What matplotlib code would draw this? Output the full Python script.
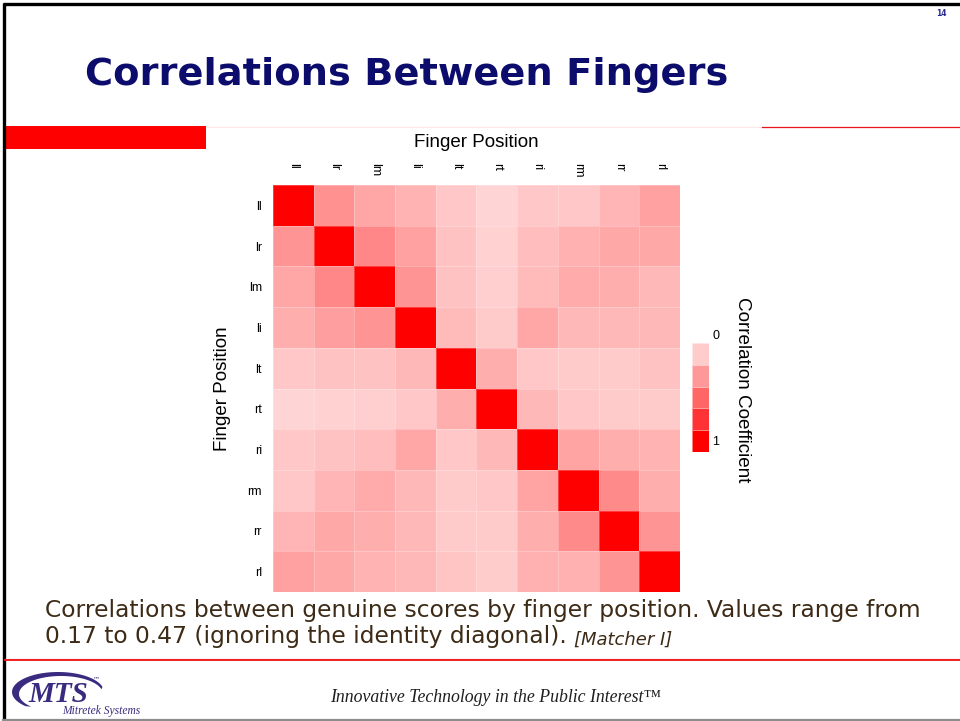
import numpy as np
import matplotlib
matplotlib.use("Agg")
import matplotlib.pyplot as plt
from matplotlib.colors import LinearSegmentedColormap
from matplotlib.patches import Rectangle, Polygon

# ---------------- data ----------------
fingers = ["ll", "lr", "lm", "li", "lt", "rt", "ri", "rm", "rr", "rl"]
corr = np.array([
    [1.00, 0.43, 0.35, 0.30, 0.22, 0.17, 0.22, 0.22, 0.29, 0.37],
    [0.42, 1.00, 0.47, 0.37, 0.24, 0.18, 0.26, 0.31, 0.34, 0.34],
    [0.35, 0.47, 1.00, 0.42, 0.24, 0.19, 0.27, 0.33, 0.32, 0.28],
    [0.32, 0.38, 0.42, 1.00, 0.27, 0.21, 0.35, 0.28, 0.28, 0.28],
    [0.22, 0.24, 0.24, 0.28, 1.00, 0.32, 0.22, 0.21, 0.21, 0.24],
    [0.17, 0.18, 0.19, 0.22, 0.32, 1.00, 0.28, 0.22, 0.21, 0.21],
    [0.22, 0.24, 0.26, 0.35, 0.22, 0.28, 1.00, 0.36, 0.32, 0.30],
    [0.22, 0.29, 0.33, 0.28, 0.21, 0.22, 0.36, 1.00, 0.46, 0.32],
    [0.29, 0.34, 0.32, 0.28, 0.21, 0.21, 0.32, 0.46, 1.00, 0.42],
    [0.37, 0.34, 0.30, 0.28, 0.23, 0.20, 0.31, 0.31, 0.42, 1.00],
])
cbar_levels = [0.2, 0.4, 0.6, 0.8, 1.0]
cbar_labels = ["0", "1"]

title = "Correlations Between Fingers"
caption1 = "Correlations between genuine scores by finger position. Values range from"
caption2 = "0.17 to 0.47 (ignoring the identity diagonal). "
caption_ref = "[Matcher I]"
footer = "Innovative Technology in the Public Interest\u2122"

# ---------------- figure ----------------
W, H = 960, 721
fig = plt.figure(figsize=(W / 100, H / 100), dpi=100)
fig.patch.set_facecolor("white")

def rect(x0, y0, x1, y1):
    return [x0 / W, 1 - y1 / H, (x1 - x0) / W, (y1 - y0) / H]

# overlay in pixel coordinates
bg = fig.add_axes([0, 0, 1, 1])
bg.set_xlim(0, W)
bg.set_ylim(H, 0)
bg.axis("off")

# slide borders
bg.plot([3, W], [4, 4], color="black", lw=2.4, solid_capstyle="butt")
bg.plot([4, 4], [3, H], color="black", lw=2.4, solid_capstyle="butt")
bg.plot([3, W], [719.5, 719.5], color="#8c8c8c", lw=1.6)

# red decorations
bg.add_patch(Rectangle((5, 126), 201, 23, color="#ff0000", lw=0))
bg.plot([206, 762], [126.5, 126.5], color="#ffe6e6", lw=0.8)
bg.plot([762, W], [127, 127], color="#e8141e", lw=0.9)
bg.plot([5, W], [658.5, 658.5], color="#ffc0c0", lw=1.0)
bg.plot([5, W], [660, 660], color="#ee1010", lw=1.3)

# title and page number
bg.text(85, 75, title, fontsize=27.6, fontweight="bold", family="DejaVu Sans",
        color="#0c0c6c", ha="left", va="center")
bg.text(941, 14, "14", fontsize=5.5, fontweight="bold", family="DejaVu Sans",
        color="#2c2c8c", ha="center", va="center")

# caption
cap_font = dict(fontsize=16.8, family="DejaVu Sans", color="#3d2b17")
t1 = bg.text(45, 610, caption1, ha="left", va="center", **cap_font)
t2 = bg.text(45, 637, caption2, ha="left", va="center", **cap_font)
bg.annotate(caption_ref, xy=(1, 0), xycoords=t2, xytext=(0, 0),
            textcoords="offset points", fontsize=13, style="italic",
            family="DejaVu Sans", color="#3d2b17", ha="left", va="bottom")

# footer
bg.text(495, 697, footer, fontsize=12.8, style="italic", family="Liberation Serif",
        color="#1e1e1e", ha="center", va="center")

# logo
t = np.radians(np.linspace(15, 225, 80))
outer = np.column_stack([58 + 46 * np.cos(t), 692 - 20 * np.sin(t)])
inner = np.column_stack([61 + 42 * np.cos(t[::-1]), 694 - 18 * np.sin(t[::-1])])
bg.add_patch(Polygon(np.vstack([outer, inner]), closed=True,
                     facecolor="#3a2b80", edgecolor="none"))
bg.text(58, 695, "MTS", fontsize=21, fontweight="bold", style="italic",
        family="Liberation Serif", color="#3a2b80", ha="center", va="center")
bg.text(96, 679, "\u2122", fontsize=5, family="DejaVu Sans", color="#3a2b80",
        ha="center", va="center")
bg.text(101, 711, "Mitretek Systems", fontsize=8.3, style="italic",
        family="Liberation Serif", color="#3a2b80", ha="center", va="center")

# ---------------- heatmap ----------------
cmap = LinearSegmentedColormap.from_list("wr", ["#ffffff", "#ff0000"])
ax = fig.add_axes(rect(273, 185, 680, 592))
n = len(fingers)
ax.pcolormesh(np.arange(n + 1), np.arange(n + 1), corr, cmap=cmap, vmin=0, vmax=1,
              edgecolors=(1, 1, 1, 0.25), linewidth=0.6)
ax.set_xlim(0, n)
ax.set_ylim(n, 0)
for s in ax.spines.values():
    s.set_visible(False)
ax.xaxis.tick_top()
ax.xaxis.set_label_position("top")
ax.set_xticks(np.arange(n) + 0.5)
ax.set_yticks(np.arange(n) + 0.5)
ax.set_xticklabels(fingers, rotation=270, fontsize=9, family="Liberation Sans",
                   va="top", ha="center")
ax.set_yticklabels(fingers, fontsize=9, family="Liberation Sans")
ax.tick_params(axis="x", length=0, pad=16)
ax.tick_params(axis="y", length=0, pad=8)
ax.set_xlabel("Finger Position", fontsize=13.5, family="Liberation Sans", labelpad=11)
ax.set_ylabel("Finger Position", fontsize=13.5, family="Liberation Sans", labelpad=12)

# ---------------- colorbar ----------------
cax = fig.add_axes(rect(692, 343, 709, 452))
cax.pcolormesh([0, 1], np.arange(len(cbar_levels) + 1),
               np.array(cbar_levels).reshape(-1, 1), cmap=cmap, vmin=0, vmax=1,
               edgecolors=(1, 1, 1, 0.5), linewidth=0.6)
cax.set_xlim(0, 1)
cax.set_ylim(len(cbar_levels), 0)
cax.axis("off")
cax.text(1.4, 1.064, cbar_labels[0], transform=cax.transAxes, fontsize=9,
         family="Liberation Sans", ha="center", va="center")
cax.text(1.4, 0.09, cbar_labels[1], transform=cax.transAxes, fontsize=9,
         family="Liberation Sans", ha="center", va="center")
bg.text(742, 390, "Correlation Coefficient", rotation=270, fontsize=13.6,
        family="Liberation Sans", ha="center", va="center")

fig.savefig("out.png", dpi=100)
